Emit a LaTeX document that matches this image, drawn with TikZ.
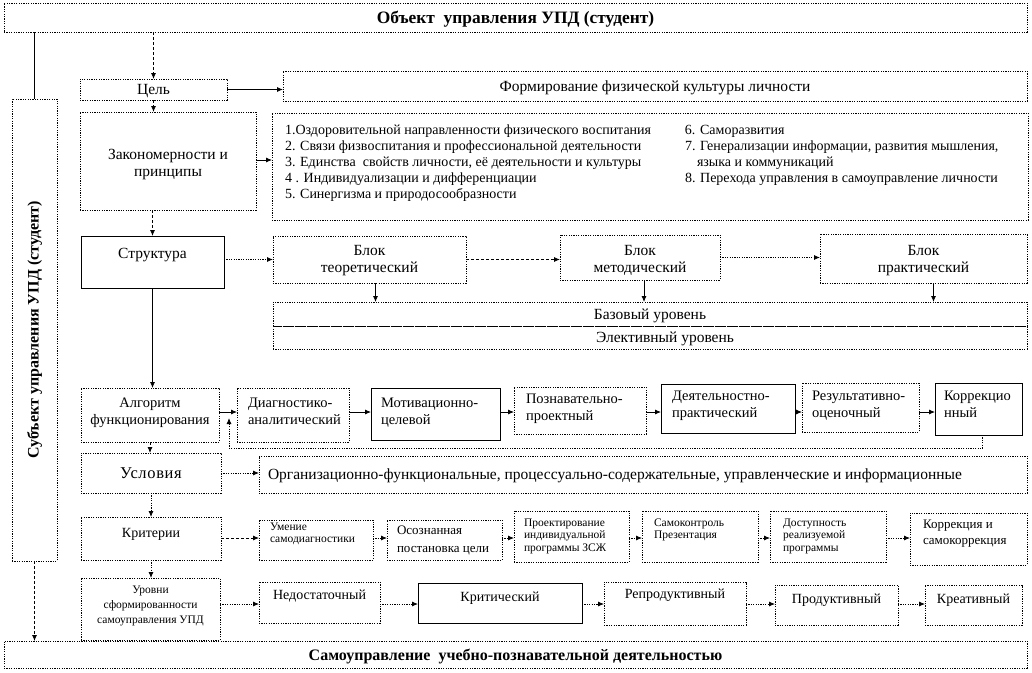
\documentclass[tikz,border=0pt]{standalone}
\usepackage{fontspec}
\setmainfont{Liberation Serif}
\usetikzlibrary{arrows.meta,calc}
\newcommand\bxc[8]{%
 \pgfmathsetmacro\bxW{#4-#2}\pgfmathsetmacro\bxH{#5-#3}\pgfmathsetmacro\bxD{(#3+#5)/2-#7}%
 \node[#6,minimum width=\bxW pt,minimum height=\bxH pt] (#1) at ({(#2+#4)/2},{(#3+#5)/2})
 {\raisebox{\bxD pt}[0pt][0pt]{\begin{tabular}[t]{@{}c@{}}#8\end{tabular}}};}
\newcommand\bxl[9]{%
 \pgfmathsetmacro\bxW{#4-#2}\pgfmathsetmacro\bxH{#5-#3}\pgfmathsetmacro\bxD{(#3+#5)/2-#7}\pgfmathsetmacro\bxT{#4-#2-2*#8}%
 \node[#6,minimum width=\bxW pt,minimum height=\bxH pt] (#1) at ({(#2+#4)/2},{(#3+#5)/2})
 {\makebox[\bxT pt][l]{\raisebox{\bxD pt}[0pt][0pt]{\begin{tabular}[t]{@{}l@{}}#9\end{tabular}}}};}
\tikzset{
 bx/.style={draw,line width=0.8pt,inner sep=0pt,outer sep=0pt},
 dbx/.style={bx,dash pattern=on 1.2pt off 1.2pt},
 sbx/.style={bx},
 lnk/.style={line width=0.8pt},
 arr/.style={lnk,-{Latex[length=6pt,width=5pt]}},
 dotc/.style={arr,dash pattern=on 1.2pt off 1.2pt},
 dashc/.style={arr,dash pattern=on 3pt off 2pt},
 fbold/.style={font=\bfseries\fontsize{16}{18}\selectfont},
 ftop/.style={font=\bfseries\fontsize{17.4}{19}\selectfont},
 fm/.style={font=\fontsize{15.5}{17}\selectfont},
 fusl/.style={font=\fontsize{16.5}{18}\selectfont\addfontfeature{LetterSpace=4}},
 fprin/.style={font=\fontsize{14}{16}\selectfont},
 falg/.style={font=\fontsize{14.5}{17}\selectfont},
 fsm/.style={font=\fontsize{11.5}{12.5}\selectfont},
 fmid/.style={font=\fontsize{13}{18}\selectfont},
 flev/.style={font=\fontsize{14}{16}\selectfont},
}
\begin{document}
\begin{tikzpicture}[x=1pt,y=-1pt]
\fill[white] (0,0) rectangle (1032,672);
\useasboundingbox (0,0) rectangle (1032,672);
% frame boxes
\bxc{top}{4}{3}{1027}{32}{dbx,ftop}{23}{Объект\ \ управления УПД (студент)}
\bxc{bot}{4}{641}{1027}{668}{dbx,fbold}{660}{Самоуправление\ \ учебно-познавательной деятельностью}
\node[dbx,fbold,minimum width=45pt,minimum height=462pt] (side) at (34.5,330) {\rotatebox{90}{Субъект управления УПД (студент)}};
% goal
\bxc{cel}{80}{79}{227}{100}{dbx,fm}{94}{Цель}
\bxc{form}{283}{71}{1027}{101}{dbx,fm}{91}{Формирование физической культуры личности}
% principles
\bxc{zak}{80}{112}{256}{210}{dbx,fm}{159}{Закономерности и\\принципы}
\node[dbx,fprin,minimum width=756pt,minimum height=107pt] (prin) at (650,166.5)
 {\makebox[730pt][l]{\raisebox{32.5pt}[0pt][0pt]{\begin{tabular}[t]{@{}p{400pt}@{}l@{}}
 1.Оздоровительной направленности физического воспитания & 6. Саморазвития\\
 2. Связи физвоспитания и профессиональной деятельности & 7. Генерализации информации, развития мышления,\\
 3. Единства\ \ свойств личности, её деятельности и культуры & \hspace*{12pt}языка и коммуникаций\\
 4 . Индивидуализации и дифференциации & 8. Перехода управления в самоуправление личности\\
 5. Синергизма и природосообразности & \\
 \end{tabular}}}};
% structure
\bxc{str}{81}{236}{224}{288}{sbx,fm}{258}{Структура}
\bxc{teor}{273}{236}{466}{283}{dbx,fm}{255}{Блок\\теоретический}
\bxc{met}{560}{235}{720}{280}{dbx,fm}{255}{Блок\\методический}
\bxc{prak}{820}{234}{1027}{283}{dbx,fm}{255}{Блок\\практический}
\bxc{base}{273}{302}{1027}{326}{dbx,fm}{319}{Базовый уровень}
\bxc{elec}{273}{326}{1027}{349}{dbx,fm}{342}{\hspace*{30pt}Элективный уровень}
% algorithm
\bxc{alg}{81}{388}{219}{442}{dbx,falg}{407}{Алгоритм\\функционирования}
\bxl{d1}{237}{388}{349}{442}{dbx,falg}{407}{11}{Диагностико-\\аналитический}
\bxl{d2}{371}{388}{500}{440}{sbx,falg}{407}{10}{Мотивационно-\\целевой}
\bxl{d3}{514}{387}{646}{434}{dbx,falg}{403}{12}{Познавательно-\\проектный}
\bxl{d4}{661}{384}{795}{433}{sbx,falg}{400}{11}{Деятельностно-\\практический}
\bxl{d5}{802}{383}{919}{432}{dbx,falg}{400}{10}{Результативно-\\оценочный}
\bxl{d6}{935}{383}{1022}{435}{sbx,falg}{400}{9}{Коррекцио\\нный}
% conditions
\bxc{usl}{81}{453}{221}{493}{dbx,fusl}{478}{Условия}
\bxl{org}{259}{456}{1027}{493}{dbx,fm}{479}{9}{Организационно-функциональные, процессуально-содержательные, управленческие и информационные}
% criteria
\bxc{krit}{81}{517}{221}{560}{dbx,flev}{537}{Критерии}
\bxl{c1}{259}{520}{373}{560}{dbx,fsm}{530}{11}{Умение\\самодиагностики}
\bxl{c2}{387}{520}{502}{560}{dbx,fmid}{534}{10}{Осознанная\\постановка цели}
\bxl{c3}{514}{511}{629}{562}{dbx,fsm}{526}{10}{Проектирование\\индивидуальной\\программы ЗСЖ}
\bxl{c4}{642}{511}{758}{562}{dbx,fsm}{526}{12}{Самоконтроль\\Презентация}
\bxl{c5}{770}{511}{886}{562}{dbx,fsm}{526}{13}{Доступность\\реализуемой\\программы}
\bxl{c6}{910}{513}{1027}{565}{dbx,fmid,font=\fontsize{13}{16}\selectfont}{528}{13}{Коррекция и\\самокоррекция}
% levels
\bxc{urov}{81}{578}{220}{640}{dbx,fsm,font=\fontsize{11.5}{15}\selectfont}{593}{Уровни\\сформированности\\самоуправления УПД}
\bxc{l1}{259}{582}{380}{623}{dbx,flev}{599}{Недостаточный}
\bxc{l2}{418}{583}{582}{623}{sbx,flev}{601}{Критический}
\bxc{l3}{604}{582}{746}{625}{dbx,flev}{598}{Репродуктивный}
\bxc{l4}{775}{585}{898}{625}{dbx,flev}{603}{Продуктивный}
\bxc{l5}{925}{585}{1022}{625}{dbx,flev}{603}{Креативный}
% helper coordinates
\coordinate (ay) at (0,412);
\coordinate (cy) at (0,538);
\coordinate (ly) at (0,604);
\coordinate (fbk) at (229,418);
\coordinate (fby) at (0,448);
% connectors
\draw[lnk] (side.north |- top.south) -- (side.north);
\draw[dashc] (side.south) -- (side.south |- bot.north);
\draw[dashc] (cel.north |- top.south) -- (cel.north);
\draw[arr] (cel.east) -- (cel.east -| form.west);
\draw[dashc] (cel.south) -- (cel.south |- zak.north);
\draw[arr] (zak.east |- 0,160) -- (prin.west |- 0,160);
\draw[dashc] (zak.south -| str.north) -- (str.north);
\draw[dotc] (str.east |- teor.west) -- (teor.west);
\draw[dashc] (teor.east) -- (teor.east -| met.west);
\draw[dotc] (met.east) -- (met.east -| prak.west);
\draw[arr] ([xshift=6pt]teor.south) -- ([xshift=6pt]teor.south |- base.north);
\draw[arr] ([xshift=4pt]met.south) -- ([xshift=4pt]met.south |- base.north);
\draw[arr] ([xshift=10pt]prak.south) -- ([xshift=10pt]prak.south |- base.north);
\draw[arr] (str.south) -- (str.south |- alg.north);
\draw[arr] (alg.east |- ay) -- (d1.west |- ay);
\draw[arr] (d1.east |- ay) -- (d2.west |- ay);
\draw[arr] (d2.east |- ay) -- (d3.west |- ay);
\draw[arr] (d3.east |- ay) -- (d4.west |- ay);
\draw[arr] (d4.east |- ay) -- (d5.west |- ay);
\draw[arr] (d5.east |- ay) -- (d6.west |- ay);
\draw[dotc] ([xshift=4pt]d6.south) |- (fby -| fbk) -- (fbk);
\draw[dashc] (alg.south) -- (alg.south |- usl.north);
\draw[dotc] (usl.east) -- (usl.east -| org.west);
\draw[dotc] (usl.south) -- (usl.south |- krit.north);
\draw[dashc] (krit.east |- cy) -- (c1.west |- cy);
\draw[dotc] (c1.east |- cy) -- (c2.west |- cy);
\draw[dotc] (c2.east |- cy) -- (c3.west |- cy);
\draw[dotc] (c3.east |- cy) -- (c4.west |- cy);
\draw[dotc] (c4.east |- cy) -- (c5.west |- cy);
\draw[dotc] (c5.east |- cy) -- (c6.west |- cy);
\draw[dotc] (krit.south) -- (krit.south |- urov.north);
\draw[dotc] (urov.east |- ly) -- (l1.west |- ly);
\draw[dotc] (l1.east |- ly) -- (l2.west |- ly);
\draw[dotc] (l2.east |- ly) -- (l3.west |- ly);
\draw[dotc] (l3.east |- ly) -- (l4.west |- ly);
\draw[dotc] (l4.east |- ly) -- (l5.west |- ly);
\end{tikzpicture}
\end{document}
